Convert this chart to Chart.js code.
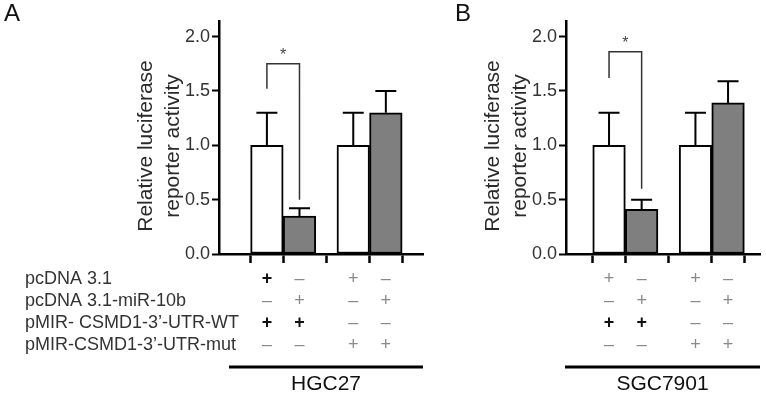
<!DOCTYPE html>
<html>
<head>
<meta charset="utf-8">
<script src="https://cdn.jsdelivr.net/npm/chart.js@4.4.1/dist/chart.umd.min.js"></script>
<style>
  html, body { margin: 0; padding: 0; background: #fff; }
  #wrap { position: relative; width: 766px; height: 396px; }
  #wrap canvas { position: absolute; left: 0; top: 0; }
</style>
</head>
<body>
<div id="wrap">
  <canvas id="chartA" width="766" height="396"></canvas>
  <canvas id="chartB" width="766" height="396"></canvas>
</div>
<script>
// ---- data ----
const rowLabels = ['pcDNA 3.1', 'pcDNA 3.1-miR-10b',
                   'pMIR- CSMD1-3\u2019-UTR-WT', 'pMIR-CSMD1-3\u2019-UTR-mut'];
const rowSigns = [
  ['+', '-', '+', '-'],
  ['-', '+', '-', '+'],
  ['+', '+', '-', '-'],
  ['-', '-', '+', '+']
];
const cellLines = ['HGC27', 'SGC7901'];
const meanHGC27 = [1.00, 0.35, 1.00, 1.30];
const errHGC27 = [0.30, 0.07, 0.30, 0.20];
const meanSGC7901 = [1.00, 0.41, 1.00, 1.39];
const errSGC7901 = [0.30, 0.09, 0.30, 0.20];
const yTicks = [0, 0.5, 1.0, 1.5, 2.0];
// significance bracket: left leg start, bracket top, right leg end
const sigHGC27 = [1.52, 1.75, 0.50];
const sigSGC7901 = [1.62, 1.86, 0.60];

const FONT = '"Liberation Sans", Arial, sans-serif';
const GRAY = '#7f7f7f';

// bar slot on the x scale: two pairs with a wider gap between them
function slot(i) { return i + (i > 1 ? 0.65 : 0); }

// which +/- signs are printed heavy (as in the original)
const boldA = [[1, 0, 0, 0], [0, 0, 0, 0], [1, 1, 0, 0], [0, 0, 0, 0]];
const boldB = [[0, 0, 0, 0], [0, 0, 0, 0], [1, 1, 0, 0], [0, 0, 0, 0]];

const rowY = [279, 301, 323, 345];

const decorPlugin = {
  id: 'decor',
  afterDatasetsDraw: function (chart, args, opts) {
    const ctx = chart.ctx;
    const ys = chart.scales.y;
    const meta = chart.getDatasetMeta(0);
    ctx.save();
    // error bars (upper only)
    ctx.strokeStyle = '#000';
    ctx.lineWidth = 2;
    opts.err.forEach(function (e, i) {
      const bx = meta.data[i].x;
      const top = ys.getPixelForValue(opts.mean[i] + e);
      const base = ys.getPixelForValue(opts.mean[i]);
      ctx.beginPath();
      ctx.moveTo(bx, base); ctx.lineTo(bx, top);
      ctx.moveTo(bx - 10.5, top); ctx.lineTo(bx + 10.5, top);
      ctx.stroke();
    });
    // significance bracket
    const x1 = meta.data[0].x, x2 = meta.data[1].x;
    const yTop = ys.getPixelForValue(opts.sig[1]);
    ctx.strokeStyle = '#333';
    ctx.lineWidth = 1.5;
    ctx.beginPath();
    ctx.moveTo(x1, ys.getPixelForValue(opts.sig[0]));
    ctx.lineTo(x1, yTop);
    ctx.lineTo(x2, yTop);
    ctx.lineTo(x2, ys.getPixelForValue(opts.sig[2]));
    ctx.stroke();
    ctx.fillStyle = '#444';
    ctx.font = '16px ' + FONT;
    ctx.textAlign = 'center';
    ctx.textBaseline = 'middle';
    ctx.fillText('*', (x1 + x2) / 2, yTop - 8);
    ctx.restore();
  },
  afterDraw: function (chart, args, opts) {
    const ctx = chart.ctx;
    const area = chart.chartArea;
    const meta = chart.getDatasetMeta(0);
    ctx.save();
    // panel letter
    ctx.fillStyle = '#111';
    ctx.font = '24px ' + FONT;
    ctx.textAlign = 'left';
    ctx.textBaseline = 'alphabetic';
    ctx.fillText(opts.letter, opts.letterX, 21);
    // y axis title
    ctx.save();
    ctx.translate(area.left - 73, 146);
    ctx.rotate(-Math.PI / 2);
    ctx.font = '21px ' + FONT;
    ctx.fillStyle = '#2a2a2a';
    ctx.textAlign = 'center';
    ctx.textBaseline = 'middle';
    ctx.fillText('Relative luciferase', 0, 0);
    ctx.fillText('reporter activity', 0, 27);
    ctx.restore();
    // row labels
    if (opts.rowLabels) {
      ctx.font = '18px ' + FONT;
      ctx.fillStyle = '#333';
      ctx.textAlign = 'left';
      ctx.textBaseline = 'middle';
      rowLabels.forEach(function (t, r) { ctx.fillText(t, 25, rowY[r]); });
    }
    // +/- table
    ctx.textAlign = 'center';
    ctx.textBaseline = 'middle';
    rowSigns.forEach(function (row, r) {
      row.forEach(function (s, i) {
        const heavy = opts.bold[r][i];
        ctx.font = (heavy ? 'bold ' : '') + '18px ' + FONT;
        ctx.fillStyle = heavy ? '#111' : '#8a8a8a';
        ctx.fillText(s === '+' ? '+' : '\u2013', meta.data[i].x, rowY[r]);
      });
    });
    // cell line bar and name
    ctx.strokeStyle = '#000';
    ctx.lineWidth = 3;
    ctx.beginPath();
    ctx.moveTo(area.left + opts.lineInset, 367);
    ctx.lineTo(area.right, 367);
    ctx.stroke();
    ctx.fillStyle = '#111';
    ctx.font = '21px ' + FONT;
    ctx.fillText(opts.cell, (area.left + opts.lineInset + area.right) / 2, 384);
    ctx.restore();
  }
};

function makePanel(id, mean, err, sig, panel) {
  return new Chart(document.getElementById(id), {
    type: 'bar',
    data: {
      datasets: [{
        data: mean.map(function (v, i) { return { x: slot(i), y: v }; }),
        backgroundColor: mean.map(function (v, i) { return i % 2 ? GRAY : '#fff'; }),
        borderColor: '#000',
        borderWidth: 2,
        borderSkipped: false,
        barThickness: 32.6
      }]
    },
    options: {
      responsive: false,
      animation: false,
      layout: { padding: { left: panel.padLeft, right: panel.padRight, top: 21, bottom: 0 } },
      plugins: {
        legend: { display: false },
        tooltip: { enabled: false },
        decor: {
          letter: panel.letter, letterX: panel.letterX, cell: panel.cell,
          mean: mean, err: err, sig: sig, bold: panel.bold,
          rowLabels: panel.rowLabels, lineInset: panel.lineInset
        }
      },
      scales: {
        x: {
          type: 'linear',
          min: panel.xMin, max: panel.xMax,
          offset: false,
          afterBuildTicks: function (s) { s.ticks = mean.map(function (v, i) { return { value: slot(i) }; }); },
          afterFit: function (s) { s.height = 142; },
          ticks: { display: false },
          grid: { drawOnChartArea: false, drawTicks: true, tickLength: 9,
                  tickWidth: 2.5, tickColor: '#000' },
          border: { display: true, color: '#000', width: 2.5 }
        },
        y: {
          min: 0, max: 2.144,
          afterBuildTicks: function (s) { s.ticks = yTicks.map(function (v) { return { value: v }; }); },
          afterFit: function (s) { s.width = 219; },
          ticks: {
            padding: 2,
            color: '#333',
            font: { family: FONT, size: 18 },
            callback: function (v) { return Number(v).toFixed(1); }
          },
          grid: { drawOnChartArea: false, drawTicks: true, tickLength: 7,
                  tickWidth: 2, tickColor: '#000' },
          border: { display: true, color: '#000', width: 2.5 }
        }
      }
    },
    plugins: [decorPlugin]
  });
}

makePanel('chartA', meanHGC27, errHGC27, sigHGC27, {
  letter: 'A', letterX: 4, cell: cellLines[0], bold: boldA, rowLabels: true,
  padLeft: 0, padRight: 343, xMin: -1.47, xMax: 4.79, lineInset: 10
});
makePanel('chartB', meanSGC7901, errSGC7901, sigSGC7901, {
  letter: 'B', letterX: 455, cell: cellLines[1], bold: boldB, rowLabels: false,
  padLeft: 347, padRight: 6, xMin: -1.32, xMax: 4.63, lineInset: -1
});
</script>
</body>
</html>
